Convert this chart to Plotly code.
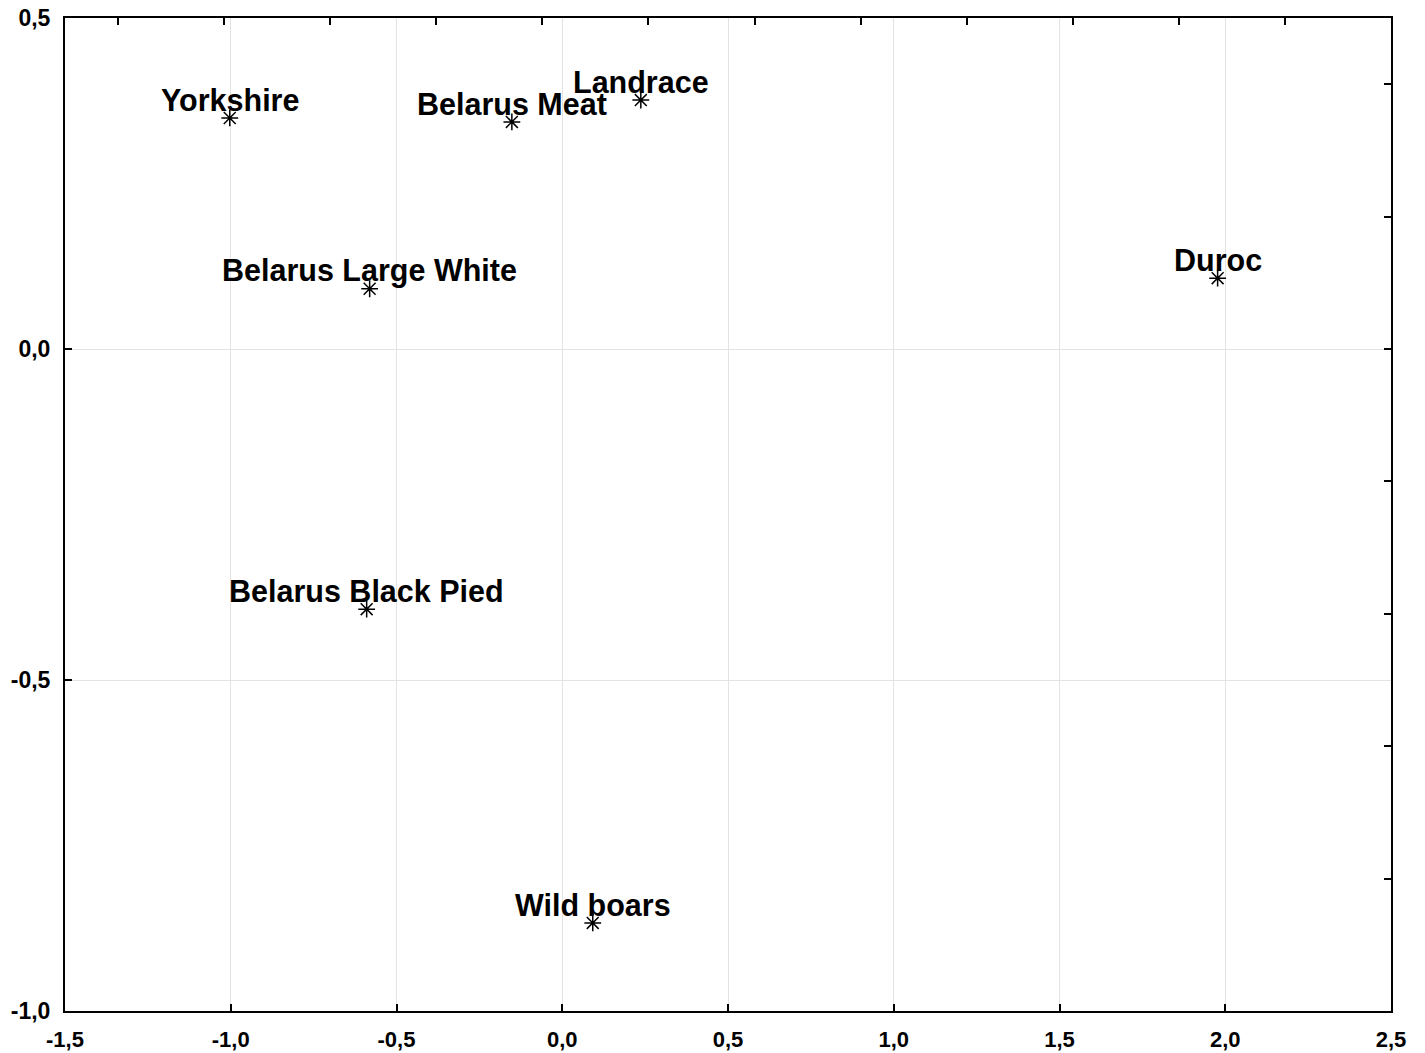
import plotly.graph_objects as go

breeds = ["Yorkshire", "Belarus Meat", "Landrace", "Duroc",
          "Belarus Large White", "Belarus Black Pied", "Wild boars"]
dim1 = [-1.003, -0.152, 0.237, 1.977, -0.581, -0.590, 0.092]
dim2 = [0.349, 0.343, 0.376, 0.107, 0.091, -0.393, -0.867]

x_ticks = [-1.5, -1.0, -0.5, 0.0, 0.5, 1.0, 1.5, 2.0, 2.5]
x_tick_labels = ["-1,5", "-1,0", "-0,5", "0,0", "0,5", "1,0", "1,5", "2,0", "2,5"]
y_ticks = [-1.0, -0.5, 0.0, 0.5]
y_tick_labels = ["-1,0", "-0,5", "0,0", "0,5"]
top_ticks = [-1.34 + 0.32 * k for k in range(12)]
right_ticks = [-0.8, -0.6, -0.4, -0.2, 0.0, 0.2, 0.4]

FONT = "Liberation Sans, Arial, sans-serif"

fig = go.Figure()
fig.add_trace(go.Scatter(
    x=dim1, y=dim2, mode="markers",
    marker=dict(symbol="asterisk-open", size=14, color="black",
                line=dict(color="black", width=1.5)),
    showlegend=False, hoverinfo="skip"))

for name, xv, yv in zip(breeds, dim1, dim2):
    fig.add_annotation(x=xv, y=yv, text="<b>%s</b>" % name, showarrow=False,
                       xanchor="center", yanchor="bottom", yshift=-1,
                       font=dict(family=FONT, size=30.5, color="black"))

fig.add_trace(go.Scatter(x=[None], y=[None], xaxis="x2", yaxis="y2",
                         showlegend=False, hoverinfo="skip"))

axis_common = dict(showline=True, linecolor="black", linewidth=2,
                   ticks="inside", tickcolor="black", tickwidth=2, ticklen=7,
                   zeroline=False, automargin=False)

# page body has an 8px margin, so the figure is offset by (8, 8)
fig.update_layout(
    width=1417, height=1045,
    margin=dict(l=57, r=34, t=10, b=42, autoexpand=False),
    paper_bgcolor="white", plot_bgcolor="white",
    font=dict(family=FONT, color="black"),
    xaxis=dict(range=[-1.5, 2.5], tickvals=x_ticks,
               ticktext=["<b>%s</b>" % t for t in x_tick_labels],
               showgrid=True, gridcolor="#e3e3e3", gridwidth=1,
               tickfont=dict(family=FONT, size=22, color="black"),
               ticklabelstandoff=8, ticklabeloverflow="allow",
               **axis_common),
    yaxis=dict(range=[-1.0, 0.5], tickvals=y_ticks,
               ticktext=["<b>%s</b>" % t for t in y_tick_labels],
               showgrid=True, gridcolor="#e3e3e3", gridwidth=1,
               tickfont=dict(family=FONT, size=23, color="black"),
               ticklabelstandoff=8, ticklabeloverflow="allow",
               **axis_common),
    xaxis2=dict(range=[-1.5, 2.5], overlaying="x", side="top",
                tickvals=top_ticks, showticklabels=False, showgrid=False,
                **axis_common),
    yaxis2=dict(range=[-1.0, 0.5], overlaying="y", side="right",
                tickvals=right_ticks, showticklabels=False, showgrid=False,
                **axis_common),
)

fig.write_html("out.html")
